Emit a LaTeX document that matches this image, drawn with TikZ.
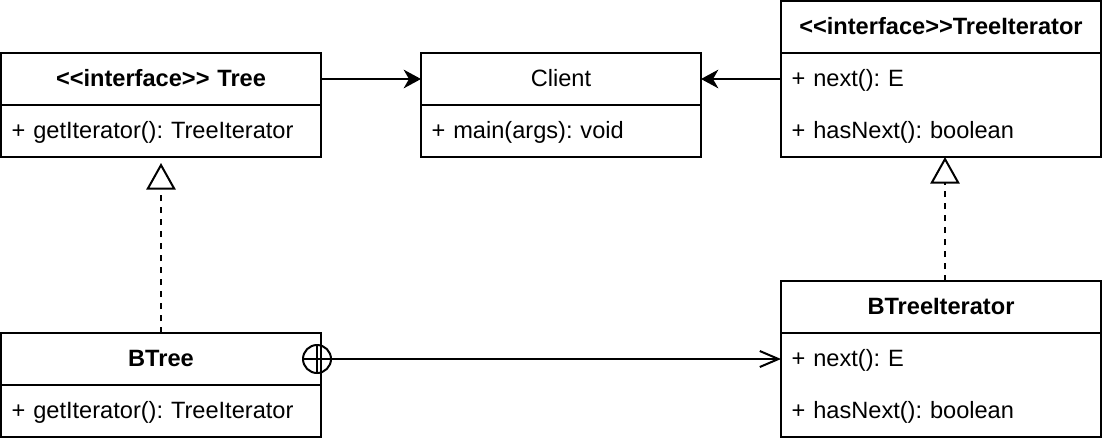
\documentclass[tikz,border=0pt]{standalone}
\usepackage{fontspec}
\setmainfont{Liberation Sans}
\usetikzlibrary{positioning,arrows.meta}

\newcommand{\umlfont}{\fontsize{17.7}{21}\selectfont\frenchspacing}
\newcommand{\stereo}[1]{\textless\kern0pt\textless\kern0pt#1\kern0pt\textgreater\kern0pt\textgreater}

\tikzset{
  uml/.style={outer sep=0pt, line width=1.5pt, minimum height=39pt, inner xsep=8pt, inner ysep=0pt,
    text height=15.5pt, text depth=4pt},
  classhead/.style={uml, draw, text width=#1, align=center, font=\umlfont\bfseries},
  classhead/.default=224pt,
  classname/.style={uml, draw, text width=#1, align=center, font=\umlfont},
  classrow/.style={uml, text width=#1, align=left, font=\umlfont},
  classrow/.default=224pt,
  realize/.style={line width=1.5pt, dash pattern=on 4.5pt off 4.5pt, -{Triangle[open, length=20pt, width=22pt]}},
  assoc/.style={line width=1.5pt, -{Stealth[length=13pt, width=14pt, inset=4pt]}},
  navig/.style={line width=1.5pt, -{Straight Barb[length=14pt, width=12pt]}},
}

\begin{document}
\begin{tikzpicture}[x=0.75pt, y=-0.75pt]
    \path[fill=white] (0,0) rectangle (1102,444);
    \useasboundingbox (0,0) rectangle (1102,444);

    % Classes
    \node[classhead, anchor=north west] (treehead) at (1,53) {\stereo{interface} Tree};
    \node[classrow, draw, below=0pt of treehead] (treebody) {+ getIterator(): TreeIterator};

    \node[classname=194pt, anchor=north west] (clienthead) at (421,53) {Client};
    \node[classrow=194pt, draw, below=0pt of clienthead] (clientbody) {+ main(args): void};

    \node[classhead, anchor=north west] (tihead) at (781,1) {\stereo{interface}TreeIterator};
    \node[classrow, below=0pt of tihead] (tinext) {+ next(): E};
    \node[classrow, below=0pt of tinext] (tihasnext) {+ hasNext(): boolean};
    \draw[line width=1.5pt] (tinext.north west) rectangle (tihasnext.south east);

    \node[classhead, anchor=north west] (btihead) at (781,281) {BTreeIterator};
    \node[classrow, below=0pt of btihead] (btinext) {+ next(): E};
    \node[classrow, below=0pt of btinext] (btihasnext) {+ hasNext(): boolean};
    \draw[line width=1.5pt] (btinext.north west) rectangle (btihasnext.south east);

    \node[classhead, anchor=north west] (btreehead) at (1,333) {BTree};
    \node[classrow, draw, below=0pt of btreehead] (btreebody) {+ getIterator(): TreeIterator};

    % Relations
    \draw[assoc] (treehead) -- (clienthead);
    \draw[assoc] (tinext) -- (clienthead);
    \draw[realize, shorten >=4.5pt] (btreehead) -- (treebody);
    \draw[realize] ([xshift=3pt]btihead.north) -- ([xshift=3pt]tihasnext.south);
    \node[draw, circle, line width=1.5pt, minimum size=21pt, inner sep=0pt, outer sep=0pt] (nest) at ([xshift=-3pt]btreehead.east) {};
    \draw[line width=1.5pt] (nest.north) -- (nest.south) (nest.west) -- (nest.east);
    \draw[navig] (nest) -- (btinext);
\end{tikzpicture}
\end{document}
